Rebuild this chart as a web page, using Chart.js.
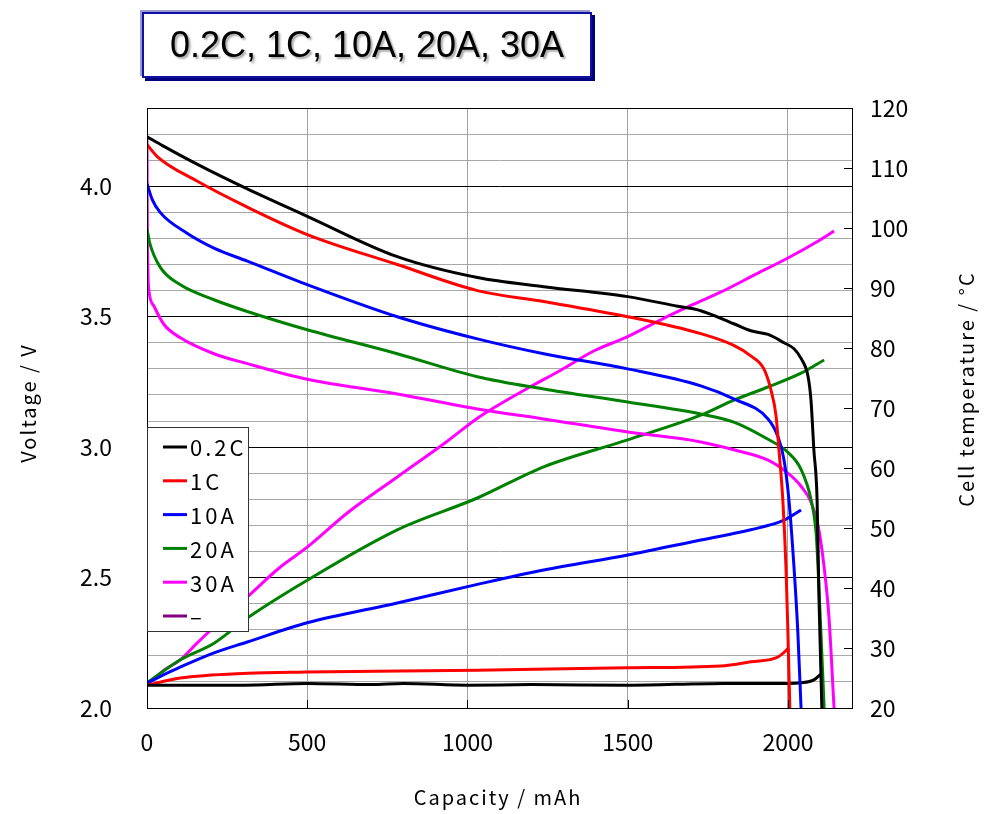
<!DOCTYPE html>
<html>
<head>
<meta charset="utf-8">
<script src="https://cdn.jsdelivr.net/npm/chart.js@4.4.1/dist/chart.umd.min.js"></script>
<style>
    html, body { margin: 0; padding: 0; background: #fff; }
    #wrap { position: relative; width: 990px; height: 814px; }
    #title {
        position: absolute; left: 142px; top: 12px; width: 446px; height: 62px;
        border: 2px solid #1010a0;
        box-shadow: 3px 3px 0 #000080, -2px -2px 0 #9a9ad2;
        background: #fff;
        font-family: "Liberation Sans", Arial, sans-serif; font-size: 36px;
        text-align: center; line-height: 62px; color: #000;
        text-shadow: 2px 2px 2px #aaa;
        z-index: 2;
    }
    #chart { position: absolute; left: 0; top: 0; }
</style>
</head>
<body>
<div id="wrap">
    <div id="title">0.2C, 1C, 10A, 20A, 30A</div>
    <canvas id="chart" width="990" height="814"></canvas>
</div>
<script>
// ---- datos ----
// voltaje (eje izquierdo)
const cap02V = [0, 50, 156, 313, 500, 781, 1031, 1238, 1500, 1656, 1728, 1831, 1884, 1938, 1988, 2019, 2041, 2063, 2072, 2081, 2091, 2097, 2106];
const volt02 = [4.19, 4.155, 4.085, 3.99, 3.885, 3.73, 3.65, 3.615, 3.577, 3.54, 3.523, 3.473, 3.446, 3.432, 3.40, 3.377, 3.34, 3.27, 3.18, 2.99, 2.80, 2.42, 2.0];

const cap1V = [0, 31, 156, 313, 500, 781, 1031, 1238, 1500, 1728, 1831, 1884, 1925, 1947, 1963, 1972, 1984, 1994, 2000, 2006];
const volt1 = [4.16, 4.115, 4.02, 3.92, 3.815, 3.70, 3.60, 3.558, 3.50, 3.435, 3.39, 3.35, 3.30, 3.22, 3.12, 2.99, 2.80, 2.54, 2.29, 2.0];

const cap10V = [0, 16, 41, 125, 209, 313, 500, 781, 1031, 1238, 1500, 1728, 1831, 1938, 1969, 1988, 2003, 2019, 2031, 2041];
const volt10 = [4.01, 3.95, 3.90, 3.82, 3.763, 3.713, 3.623, 3.50, 3.415, 3.358, 3.30, 3.235, 3.185, 3.108, 3.04, 2.95, 2.80, 2.54, 2.29, 2.0];

const cap20V = [0, 9, 41, 103, 209, 313, 500, 781, 1031, 1238, 1500, 1728, 1831, 1938, 2000, 2041, 2072, 2088, 2094, 2103, 2113];
const volt20 = [3.835, 3.78, 3.69, 3.623, 3.565, 3.52, 3.45, 3.358, 3.27, 3.223, 3.173, 3.127, 3.096, 3.03, 2.98, 2.915, 2.80, 2.67, 2.54, 2.29, 2.0];

const cap30V = [0, 1, 3, 6, 22, 53, 103, 209, 313, 500, 781, 1031, 1238, 1500, 1728, 1831, 1938, 2000, 2041, 2072, 2094, 2113, 2128, 2144];
const volt30 = [4.19, 3.85, 3.665, 3.60, 3.54, 3.47, 3.42, 3.358, 3.32, 3.26, 3.204, 3.146, 3.108, 3.058, 3.02, 2.99, 2.95, 2.90, 2.85, 2.79, 2.70, 2.54, 2.35, 2.0];

// temperatura (eje derecho)
const cap02T = [0, 300, 500, 700, 800, 1000, 1200, 1500, 1800, 2000, 2041, 2081, 2106];
const temp02 = [23.8, 23.8, 24.1, 23.9, 24.1, 23.8, 23.9, 23.8, 24.1, 24.1, 24.2, 24.7, 25.8];

const cap1T = [0, 103, 313, 500, 1031, 1500, 1790, 1884, 1969, 2003];
const temp1 = [23.8, 25.0, 25.8, 26.0, 26.3, 26.7, 27.0, 27.7, 28.5, 30.0];

const cap10T = [0, 103, 209, 313, 500, 781, 1031, 1238, 1500, 1728, 1884, 1988, 2041];
const temp10 = [24.2, 26.8, 29.2, 31.0, 34.2, 37.5, 40.6, 43.0, 45.5, 48.0, 49.7, 51.3, 53.0];

const cap20T = [0, 103, 209, 313, 500, 781, 1031, 1238, 1500, 1728, 1831, 1938, 2041, 2113];
const temp20 = [24.2, 28.0, 30.8, 35.0, 41.3, 49.7, 55.0, 60.2, 64.7, 68.8, 71.3, 73.5, 75.8, 78.0];

const cap30T = [0, 53, 103, 156, 209, 313, 416, 500, 625, 781, 938, 1031, 1081, 1188, 1291, 1394, 1500, 1603, 1706, 1790, 1900, 2000, 2100, 2144];
const temp30 = [23.8, 26.3, 28.0, 30.8, 33.5, 38.5, 43.5, 46.8, 52.5, 58.5, 64.5, 68.3, 70.0, 73.3, 76.3, 79.5, 81.9, 84.7, 87.3, 89.3, 92.3, 95.0, 98.0, 99.5];

// ticks
const xTicks = [0, 500, 1000, 1500, 2000];
const tempTicks = [20, 30, 40, 50, 60, 70, 80, 90, 100, 110, 120];

const fontTick = { family: "'Noto Sans CJK JP', sans-serif", size: 23 };

function pts(caps, vals) {
    return caps.map((c, i) => ({ x: c, y: vals[i] }));
}

function serie(label, color, caps, vals, axis, inLegend) {
    return {
        label: label,
        data: pts(caps, vals),
        borderColor: color,
        backgroundColor: color,
        borderWidth: 3,
        pointRadius: 0,
        cubicInterpolationMode: "monotone",
        yAxisID: axis,
        inLegend: inLegend,
    };
}

// Plugin: marco, marcas internas, leyenda y titulos de ejes
const extras = {
    id: "extras",
    afterDatasetsDraw(chart) {
        const ctx = chart.ctx;
        const a = chart.chartArea;
        const sx = chart.scales.x;
        const s2 = chart.scales.y2;
        ctx.save();
        ctx.strokeStyle = "#000";
        ctx.lineWidth = 1;
        ctx.strokeRect(a.left + 0.5, a.top + 0.5, a.right - a.left, a.bottom - a.top);

        // marcas hacia dentro
        ctx.beginPath();
        xTicks.forEach((v) => {
            if (v === 0) return;
            const px = Math.round(sx.getPixelForValue(v)) + 0.5;
            ctx.moveTo(px, a.bottom);
            ctx.lineTo(px, a.bottom - 8);
        });
        tempTicks.forEach((v) => {
            const py = Math.round(s2.getPixelForValue(v)) + 0.5;
            ctx.moveTo(a.right, py);
            ctx.lineTo(a.right - 8, py);
        });
        ctx.stroke();

        // leyenda
        const lx = a.left, ly = a.top + 319, lw = 101, lh = 204;
        ctx.fillStyle = "#fff";
        ctx.fillRect(lx, ly, lw, lh);
        ctx.strokeStyle = "#333";
        ctx.strokeRect(lx + 0.5, ly + 0.5, lw, lh);
        ctx.font = "22px 'Noto Sans CJK JP', sans-serif";
        ctx.letterSpacing = "3px";
        ctx.textBaseline = "middle";
        let row = 0;
        chart.data.datasets.forEach((d) => {
            if (!d.inLegend) return;
            const y = ly + 20 + row * 33.8;
            ctx.strokeStyle = d.borderColor;
            ctx.lineWidth = 3;
            ctx.beginPath();
            ctx.moveTo(lx + 16, y);
            ctx.lineTo(lx + 40, y);
            ctx.stroke();
            ctx.fillStyle = "#000";
            ctx.fillText(d.label, lx + 43, y + 1);
            row++;
        });

        // titulos de ejes
        ctx.font = "20px 'Noto Sans CJK JP', sans-serif";
        ctx.letterSpacing = "2px";
        ctx.fillStyle = "#000";
        ctx.textAlign = "center";
        ctx.textBaseline = "middle";
        ctx.fillText("Capacity / mAh", 498, 797);
        ctx.save();
        ctx.translate(28, 403);
        ctx.rotate(-Math.PI / 2);
        ctx.fillText("Voltage / V", 0, 0);
        ctx.restore();
        ctx.save();
        ctx.translate(966, 389);
        ctx.rotate(-Math.PI / 2);
        ctx.fillText("Cell temperature / °C", 0, 0);
        ctx.restore();
        ctx.restore();
    },
};

const ctx = document.getElementById("chart").getContext("2d");
new Chart(ctx, {
    type: "line",
    data: {
        datasets: [
            serie("0.2C", "#000000", cap02V, volt02, "y", true),
            serie("1C", "#ff0000", cap1V, volt1, "y", true),
            serie("10A", "#0000ff", cap10V, volt10, "y", true),
            serie("20A", "#008000", cap20V, volt20, "y", true),
            serie("30A", "#ff00ff", cap30V, volt30, "y", true),
            serie("–", "#800080", [], [], "y", true),
            serie("0.2C T", "#000000", cap02T, temp02, "y2", false),
            serie("1C T", "#ff0000", cap1T, temp1, "y2", false),
            serie("10A T", "#0000ff", cap10T, temp10, "y2", false),
            serie("20A T", "#008000", cap20T, temp20, "y2", false),
            serie("30A T", "#ff00ff", cap30T, temp30, "y2", false),
        ],
    },
    options: {
        responsive: false,
        animation: false,
        devicePixelRatio: 1,
        layout: { padding: { top: 108, left: 0, right: 0, bottom: 0 } },
        plugins: {
            legend: { display: false },
            tooltip: { enabled: false },
        },
        scales: {
            x: {
                type: "linear",
                min: 0,
                max: 2200,
                afterBuildTicks: (scale) => {
                    scale.ticks = xTicks.map((v) => ({ value: v }));
                },
                afterFit: (scale) => { scale.height = 106; },
                grid: { color: "#a0a0a0", drawTicks: false },
                border: { display: false },
                ticks: {
                    color: "#000", font: fontTick, padding: 20, maxRotation: 0, autoSkip: false,
                    callback: (v) => String(v),
                },
            },
            y: {
                position: "left",
                min: 2.0,
                max: 4.3,
                afterBuildTicks: (scale) => {
                    const t = [];
                    for (let i = 0; i <= 23; i++) t.push({ value: Math.round((2 + i * 0.1) * 10) / 10 });
                    scale.ticks = t;
                },
                afterFit: (scale) => { scale.width = 147; },
                grid: {
                    drawTicks: false,
                    color: (c) => {
                        const v = c.tick ? c.tick.value : 0;
                        return Math.abs(v * 2 - Math.round(v * 2)) < 1e-6 ? "#000" : "#a8a8a8";
                    },
                },
                border: { display: false },
                ticks: {
                    color: "#000",
                    font: fontTick,
                    padding: 35,
                    autoSkip: false,
                    callback: (v) => {
                        if (v > 4.05) return "";
                        return Math.abs(v * 2 - Math.round(v * 2)) < 1e-6 ? v.toFixed(1) : "";
                    },
                },
            },
            y2: {
                position: "right",
                min: 20,
                max: 120,
                afterBuildTicks: (scale) => {
                    scale.ticks = tempTicks.map((v) => ({ value: v }));
                },
                afterFit: (scale) => { scale.width = 138; },
                grid: { drawOnChartArea: false, drawTicks: false },
                border: { display: false },
                ticks: { color: "#000", font: fontTick, padding: 18, autoSkip: false },
            },
        },
    },
    plugins: [extras],
});
</script>
</body>
</html>
